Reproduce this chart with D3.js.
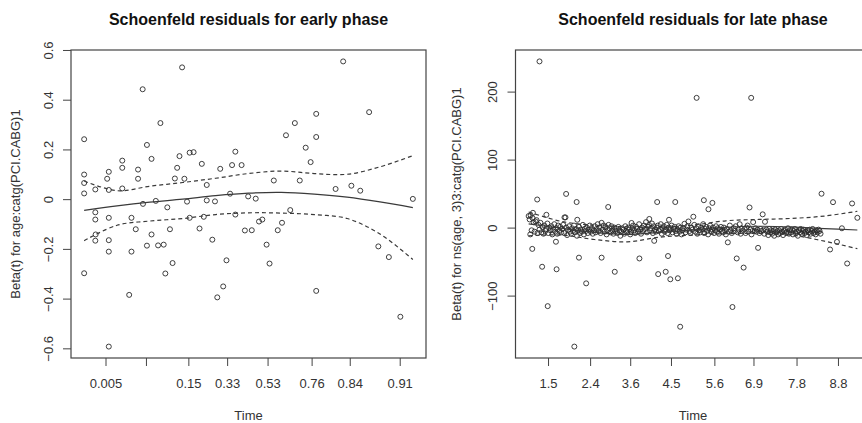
<!DOCTYPE html>
<html>
<head>
<meta charset="utf-8">
<script src="https://cdnjs.cloudflare.com/ajax/libs/d3/7.8.5/d3.min.js"></script>
<style>
  body { margin: 0; background: #fff; }
  svg { display: block; font-family: "Liberation Sans", Arial, sans-serif; }
</style>
</head>
<body>
<div id="chart"></div>
<script>
// early phase: km-transformed time (0..1) and residuals
var earlyTime = [0, 0, 0, 0, 0, 0.034, 0.034, 0.034, 0.035, 0.034,
    0.070, 0.075, 0.075, 0.075, 0.075, 0.075, 0.075, 0.116, 0.116, 0.116,
    0.137, 0.144, 0.144, 0.157, 0.164, 0.164, 0.178, 0.179, 0.191, 0.191,
    0.205, 0.205, 0.218, 0.225, 0.232, 0.242, 0.247, 0.253, 0.261, 0.269,
    0.276, 0.283, 0.290, 0.298, 0.305, 0.313, 0.321, 0.321, 0.333, 0.351,
    0.358, 0.364, 0.373, 0.373, 0.390, 0.398, 0.405, 0.414, 0.423, 0.433,
    0.444, 0.450, 0.460, 0.460, 0.479, 0.489, 0.499, 0.510, 0.522, 0.532,
    0.542, 0.555, 0.564, 0.577, 0.589, 0.602, 0.614, 0.627, 0.641, 0.656,
    0.674, 0.689, 0.706, 0.706, 0.706, 0.765, 0.788, 0.813, 0.840, 0.867,
    0.895, 0.927, 0.962, 1.000];
var earlyResid = [0.241, 0.099, 0.065, 0.023, -0.298, 0.039, -0.053, -0.082, -0.142, -0.167,
    0.082, 0.11, 0.037, -0.075, -0.165, -0.211, -0.593, 0.155, 0.126, 0.043,
    -0.385, -0.075, -0.211, -0.121, 0.119, 0.082, 0.442, -0.019, 0.218, -0.187,
    0.162, -0.142, -0.007, -0.186, 0.306, -0.183, -0.299, -0.033, -0.121, -0.257,
    0.083, 0.126, 0.173, 0.53, 0.082, -0.01, 0.187, -0.075, 0.189, -0.118,
    0.142, -0.071, 0.057, -0.005, -0.163, -0.009, -0.395, 0.122, -0.351, -0.246,
    0.022, 0.137, 0.191, -0.062, 0.137, -0.126, 0.011, -0.125, 0.002, -0.09,
    -0.082, -0.183, -0.259, 0.075, -0.125, -0.095, 0.257, -0.044, 0.306, 0.075,
    0.207, 0.149, 0.343, 0.25, -0.369, 0.041, 0.554, 0.054, 0.034, 0.35,
    -0.19, -0.233, -0.473, 0.001];
var fitTime = [0, 0.1, 0.2, 0.3, 0.4, 0.5, 0.6, 0.7, 0.8, 0.9, 1];
var earlyFit = [-0.045, -0.027, -0.012, 0, 0.014, 0.024, 0.027, 0.02, 0.008, -0.011, -0.034];
var earlyUpper = [0.073, 0.034, 0.052, 0.067, 0.084, 0.103, 0.113, 0.103, 0.1, 0.13, 0.175];
var earlyLower = [-0.167, -0.105, -0.088, -0.078, -0.062, -0.055, -0.056, -0.062, -0.078, -0.14, -0.243];
var earlyTickPos = [0.065, 0.188, 0.317, 0.435, 0.558, 0.692, 0.808, 0.960];
var earlyTickLabels = ["0.005", "", "0.15", "0.33", "0.53", "0.76", "0.84", "0.91"];
var earlyYTicks = [-0.6, -0.4, -0.2, 0, 0.2, 0.4, 0.6];

// late phase: the dense band near zero
var lateBandTime = [0.003, 0.006, 0.009, 0.012, 0.015, 0.018, 0.021, 0.024, 0.027, 0.030,
    0.033, 0.036, 0.039, 0.042, 0.045, 0.048, 0.051, 0.054, 0.057, 0.060,
    0.063, 0.066, 0.069, 0.072, 0.075, 0.078, 0.081, 0.084, 0.087, 0.090,
    0.093, 0.096, 0.099, 0.102, 0.105, 0.108, 0.112, 0.114, 0.117, 0.120,
    0.123, 0.126, 0.129, 0.132, 0.135, 0.138, 0.141, 0.144, 0.147, 0.150,
    0.153, 0.156, 0.159, 0.162, 0.165, 0.168, 0.171, 0.174, 0.177, 0.180,
    0.183, 0.186, 0.189, 0.192, 0.195, 0.198, 0.201, 0.204, 0.207, 0.210,
    0.213, 0.216, 0.219, 0.222, 0.225, 0.228, 0.231, 0.234, 0.237, 0.240,
    0.243, 0.246, 0.249, 0.252, 0.255, 0.258, 0.261, 0.264, 0.267, 0.270,
    0.273, 0.276, 0.279, 0.282, 0.285, 0.288, 0.291, 0.294, 0.297, 0.300,
    0.303, 0.306, 0.309, 0.312, 0.315, 0.318, 0.321, 0.324, 0.327, 0.330,
    0.333, 0.336, 0.339, 0.342, 0.345, 0.348, 0.351, 0.354, 0.357, 0.360,
    0.363, 0.366, 0.369, 0.372, 0.375, 0.378, 0.381, 0.384, 0.387, 0.390,
    0.393, 0.396, 0.399, 0.402, 0.405, 0.408, 0.411, 0.414, 0.417, 0.420,
    0.423, 0.426, 0.429, 0.432, 0.435, 0.438, 0.441, 0.444, 0.447, 0.450,
    0.453, 0.456, 0.459, 0.462, 0.465, 0.468, 0.471, 0.474, 0.477, 0.480,
    0.483, 0.486, 0.489, 0.492, 0.495, 0.498, 0.504, 0.507, 0.510, 0.513,
    0.516, 0.519, 0.522, 0.525, 0.528, 0.531, 0.534, 0.537, 0.540, 0.543,
    0.546, 0.549, 0.552, 0.555, 0.558, 0.561, 0.564, 0.567, 0.570, 0.573,
    0.576, 0.579, 0.582, 0.585, 0.588, 0.591, 0.594, 0.597, 0.600, 0.603,
    0.609, 0.612, 0.615, 0.618, 0.624, 0.627, 0.630, 0.636, 0.639, 0.642,
    0.645, 0.648, 0.651, 0.657, 0.660, 0.663, 0.666, 0.669, 0.675, 0.678,
    0.681, 0.690, 0.693, 0.696, 0.702, 0.705, 0.708, 0.714, 0.717, 0.723,
    0.726, 0.729, 0.732, 0.735, 0.738, 0.741, 0.744, 0.747, 0.750, 0.753,
    0.756, 0.759, 0.762, 0.765, 0.768, 0.771, 0.774, 0.777, 0.780, 0.783,
    0.786, 0.789, 0.792, 0.795, 0.798, 0.801, 0.804, 0.807, 0.810, 0.813,
    0.816, 0.819, 0.822, 0.825, 0.828, 0.831, 0.834, 0.837, 0.840, 0.843,
    0.846, 0.849, 0.852, 0.855, 0.858, 0.861, 0.864, 0.867, 0.870, 0.873,
    0.876, 0.879, 0.882, 0.885, 0.888];
var lateBandResid = [12, 18, -4, 14, 8, -6, 9, 11, -8, 4,
    -3, 7, -7, 1, -9, 3, -5, -2, 6, -8,
    0, -4, 2, -10, -3, 5, -6, -1, -9, 3,
    -5, 1, -7, -2, 4, -8, 15, 0, -11, -3,
    2, -6, -9, -1, -5, 3, -7, -2, -12, -4,
    1, -8, -3, -6, 4, -10, -2, -5, 0, -8,
    -3, 3, -6, -1, -9, -4, 2, -7, -2, 5,
    -5, 0, -8, 7, -3, 3, -6, 1, -10, -4,
    4, -1, -7, 2, -4, -9, 0, -5, -2, -8,
    1, -4, -12, -6, -1, -3, -9, 2, -5, -7,
    0, -3, -10, -6, -1, 3, -4, -8, 1, -2,
    -6, 5, -3, -9, 0, -5, 3, -2, 8, -7,
    1, 4, -4, -1, 6, -8, 2, -3, -6, 0,
    3, -5, -2, 5, -9, -1, 2, -6, -3, 4,
    -8, 0, -4, -1, 3, -7, -2, 1, -5, -9,
    -3, 2, -6, 0, -10, -4, -1, 5.6, -7, -3,
    2, 9, -5, -8, 0, -3, 4, -6, -1, -9,
    2, -4, -7, 0, -3, 5, -8, -2, 1, -5,
    -10, -1, 3, -6, -3, 0, -8, -4, 2, -6,
    -1, -9, -3, 1, -5, -7, 0, -4, -10, -2,
    -6, 3, -4, -8, -1, -5, 2, -7, -3, 5,
    -9, -1, -5, -2, -8, 0, 3, -6, -3, -10,
    -5, -1, -6, -3, -8, -2, -5, -4, -9, -3,
    -6, -11, -2, -7, -4, -9, -5, -12, -3, -7,
    -5, -10, -4, -8, -2, -6, -11, -5, -3, -8,
    -6, -1, -9, -4, -7, -3, -10, -5, -2, -8,
    -6, -12, -4, -7, -2, -9, -5, -3, -8, -6,
    -11, -4, -7, -3, -9, -5, -2, -8, -6, -10,
    -4, -7, -3, -5, -9];
// late phase: the scattered residuals
var lateOutTime = [0, 0.005, 0.011, 0.013, 0.026, 0.033, 0.041, 0.054, 0.058, 0.083,
    0.085, 0.109, 0.114, 0.139, 0.146, 0.148, 0.153, 0.175, 0.222, 0.242,
    0.262, 0.313, 0.337, 0.367, 0.382, 0.391, 0.394, 0.417, 0.424, 0.427,
    0.431, 0.446, 0.454, 0.461, 0.501, 0.511, 0.533, 0.547, 0.559, 0.606,
    0.620, 0.633, 0.654, 0.672, 0.677, 0.683, 0.688, 0.698, 0.712, 0.719,
    0.891, 0.917, 0.926, 0.938, 0.953, 0.969, 0.984, 1.000];
var lateOutResid = [17, -10, -31.3, 21.7, 41.3, 244.4, -57.6, 18.8, -115.5, -20.8,
    -61.3, 15, 49.5, -175, 37.6, 11.5, -44.2, -82, -44.2, 30.3,
    -65, 6.8, -45.4, 12.7, -19.5, 37.6, -68.4, -65, -41.8, 11.5,
    -76, 37.6, -74.5, -145.8, 16, 190.8, 40.3, 27, 36.3, -21.7,
    -116.8, -45.4, -58.8, 29.6, 190.8, 8.1, -4.7, -29.8, 19.5, 8.5,
    49.8, -32.2, 37.4, -21, -1, -52.8, 35.5, 14.4];
var lateFit = [5.5, -1, -7, -10, -7, -3.5, 0.5, 2, 1, -1.5, -3.5];
var lateUpper = [23, 9, 3.5, 1.2, 0.5, 3.7, 10, 12, 13.5, 17, 24];
var lateLower = [-12, -11, -17.5, -21, -14, -11, -9, -8.5, -11, -20, -31];
var lateTickPos = [0.059, 0.187, 0.309, 0.433, 0.565, 0.684, 0.815, 0.941];
var lateTickLabels = ["1.5", "2.4", "3.6", "4.5", "5.6", "6.9", "7.8", "8.8"];
var lateYTicks = [-100, 0, 100, 200];

class ZphPlot {
    // option: svg, left, title, ylab, time, resid, fit, upper, lower, tickPos, tickLabels, yTicks
    constructor(option) {
        for (let [key, value] of Object.entries(option)) {
            this[key] = value;
        }
        this.top = 50;
        this.gWidth = 355;
        this.gHeight = 308;
        this.layerg = this.svg.append('g')
            .attr('transform', `translate(${this.left},${this.top})`);
        this.creatScale();
        this.creatAxis();
        this.creatMarks();
        this.creatText();
    }
    // R style: data range padded by 4% on each side
    pad(ext) {
        var d = (ext[1] - ext[0]) * 0.04;
        return [ext[0] - d, ext[1] + d];
    }
    creatScale() {
        this.x = d3.scaleLinear()
            .domain(this.pad(d3.extent(this.time)))
            .range([0, this.gWidth]);
        this.y = d3.scaleLinear()
            .domain(this.pad(d3.extent(this.resid)))
            .range([this.gHeight, 0]);
    }
    creatAxis() {
        var labels = this.tickLabels;
        var xAxis = this.layerg.append('g')
            .attr('transform', `translate(0,${this.gHeight})`)
            .call(d3.axisBottom(this.x)
                .tickValues(this.tickPos)
                .tickFormat(function(d, i) { return labels[i]; })
                .tickSize(8));
        xAxis.select('.domain').remove();
        xAxis.selectAll('text').attr('y', 30).attr('dy', null);

        var yAxis = this.layerg.append('g')
            .call(d3.axisLeft(this.y)
                .tickValues(this.yTicks)
                .tickFormat(d3.format('~g'))
                .tickSize(8));
        yAxis.select('.domain').remove();
        yAxis.selectAll('text')
            .attr('transform', 'rotate(-90)')
            .attr('x', 0)
            .attr('y', -18.5)
            .attr('dy', null)
            .attr('text-anchor', 'middle');

        this.layerg.selectAll('.tick line').attr('stroke', '#444');
        this.layerg.selectAll('.tick text')
            .attr('fill', '#333')
            .style('font-size', '13px')
            .style('font-family', '"Liberation Sans", Arial, sans-serif');

        this.layerg.append('rect')
            .attr('width', this.gWidth)
            .attr('height', this.gHeight)
            .attr('fill', 'none')
            .attr('stroke', '#444')
            .attr('stroke-width', 1.2);
    }
    creatMarks() {
        var x = this.x, y = this.y;
        var pts = this.time.map(function(t, i) { return [t, this.resid[i]]; }, this);

        this.layerg.append('g')
            .selectAll('circle')
            .data(pts)
            .enter().append('circle')
            .attr('cx', function(d) { return x(d[0]); })
            .attr('cy', function(d) { return y(d[1]); })
            .attr('r', 2.5)
            .attr('fill', 'none')
            .attr('stroke', '#2a2a2a')
            .attr('stroke-width', 0.9);

        var line = d3.line()
            .x(function(d) { return x(d[0]); })
            .y(function(d) { return y(d[1]); })
            .curve(d3.curveCatmullRom.alpha(0.5));
        var self = this;
        [['fit', null], ['upper', '4,3'], ['lower', '4,3']].forEach(function(c) {
            var vals = self[c[0]];
            self.layerg.append('path')
                .attr('d', line(self.fitTime.map(function(t, i) { return [t, vals[i]]; })))
                .attr('fill', 'none')
                .attr('stroke', '#3a3a3a')
                .attr('stroke-width', 1.2)
                .attr('stroke-dasharray', c[1]);
        });
    }
    creatText() {
        this.layerg.append('text')
            .attr('x', this.gWidth / 2)
            .attr('y', -25)
            .attr('text-anchor', 'middle')
            .style('font-size', '16px')
            .style('font-weight', 'bold')
            .attr('fill', '#111')
            .text(this.title);
        this.layerg.append('text')
            .attr('x', this.gWidth / 2)
            .attr('y', 62)
            .attr('transform', null)
            .attr('y', this.gHeight + 62)
            .attr('text-anchor', 'middle')
            .style('font-size', '13px')
            .attr('fill', '#333')
            .text('Time');
        this.layerg.append('text')
            .attr('transform', `translate(${this.ylabX},${this.gHeight / 2}) rotate(-90)`)
            .attr('text-anchor', 'middle')
            .style('font-size', '13px')
            .attr('fill', '#333')
            .text(this.ylab);
    }
}

var svg = d3.select('#chart')
    .append('svg')
    .attr('width', 862)
    .attr('height', 423);

new ZphPlot({
    svg: svg, left: 71, ylabX: -51,
    title: 'Schoenfeld residuals for early phase',
    ylab: 'Beta(t) for age:catg(PCI.CABG)1',
    time: earlyTime, resid: earlyResid, fitTime: fitTime,
    fit: earlyFit, upper: earlyUpper, lower: earlyLower,
    tickPos: earlyTickPos, tickLabels: earlyTickLabels, yTicks: earlyYTicks
});

new ZphPlot({
    svg: svg, left: 515.5, ylabX: -55,
    title: 'Schoenfeld residuals for late phase',
    ylab: 'Beta(t) for ns(age, 3)3:catg(PCI.CABG)1',
    time: lateBandTime.concat(lateOutTime), resid: lateBandResid.concat(lateOutResid), fitTime: fitTime,
    fit: lateFit, upper: lateUpper, lower: lateLower,
    tickPos: lateTickPos, tickLabels: lateTickLabels, yTicks: lateYTicks
});
</script>
</body>
</html>
